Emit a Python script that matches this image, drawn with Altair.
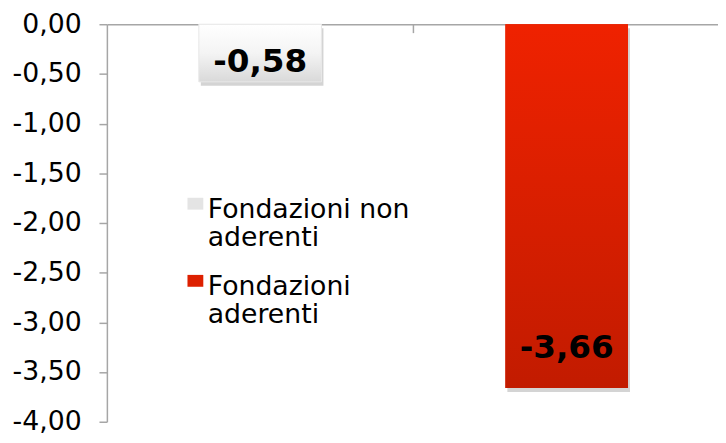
import altair as alt
import pandas as pd

categories = ["Fondazioni non aderenti", "Fondazioni aderenti"]
values = [-0.58, -3.66]
y_ticks = [0, -0.5, -1, -1.5, -2, -2.5, -3, -3.5, -4]

df = pd.DataFrame({"cat": categories, "value": values})

FONT = "DejaVu Sans"
AXIS_COL = "#a6a6a6"
BAR_W = 124

fmt = "replace(replace(format({v}, '.2f'), '.', ','), '\u2212', '-')"

x_axis = alt.Axis(orient="top", labels=False, ticks=False, title=None,
                  domainColor=AXIS_COL, domainWidth=1.5, grid=False)
x_scale = alt.Scale(domain=categories, paddingInner=0, paddingOuter=0, range=[0, 620])
x_enc = alt.X("cat:N", scale=x_scale, axis=x_axis)
y_enc = alt.Y("value:Q",
              scale=alt.Scale(domain=[-4, 0], nice=False),
              axis=alt.Axis(values=y_ticks, title=None, grid=False,
                            labelExpr=fmt.format(v="datum.value"),
                            domainColor=AXIS_COL, domainWidth=1.5,
                            tickColor=AXIS_COL, tickWidth=1.5, tickSize=8,
                            labelPadding=18, labelFont=FONT, labelFontSize=27,
                            labelColor="black"))

base = alt.Chart(df).transform_calculate(label=fmt.format(v="datum.value"))

shadow = base.mark_bar(color="#6f6f6f", opacity=0.3, xOffset=2, yOffset=4,
                       size=BAR_W).encode(x=x_enc, y=y_enc)

legend_bars = base.mark_bar(size=BAR_W).encode(
    x=x_enc, y=y_enc,
    color=alt.Color("cat:N",
                    scale=alt.Scale(domain=categories, range=["#e4e4e4", "#dd2000"]),
                    legend=alt.Legend(
                        orient="none", legendX=75, legendY=161, direction="vertical",
                        title=None, padding=0,
                        labelFont=FONT, labelFontSize=27, labelColor="black",
                        labelLimit=400, labelBaseline="top", labelOffset=0,
                        rowPadding=9,
                        symbolType="M-0.7,0.1H0.9V1.3H-0.7Z", symbolSize=400,
                        symbolStrokeWidth=0,
                        labelExpr="datum.label == 'Fondazioni non aderenti' ? ['Fondazioni non', 'aderenti'] : ['Fondazioni', 'aderenti']",
                    )))

white_grad = alt.LinearGradient(gradient="linear", x1=0, x2=0, y1=0, y2=1,
                                stops=[alt.GradientStop(color="#ffffff", offset=0),
                                       alt.GradientStop(color="#f4f4f4", offset=0.5),
                                       alt.GradientStop(color="#d9d9d9", offset=1)])
red_grad = alt.LinearGradient(gradient="linear", x1=0, x2=0, y1=0, y2=1,
                              stops=[alt.GradientStop(color="#ef2200", offset=0),
                                     alt.GradientStop(color="#c21b00", offset=1)])

white = base.transform_filter(alt.datum.cat == categories[0]).mark_bar(
    size=BAR_W, color=white_grad, stroke="#e8e8e8", strokeWidth=1).encode(x=x_enc, y=y_enc)
red = base.transform_filter(alt.datum.cat == categories[1]).mark_bar(
    size=BAR_W, color=red_grad).encode(x=x_enc, y=y_enc)

tick = base.transform_filter(alt.datum.cat == categories[1]).mark_rule(
    color=AXIS_COL, strokeWidth=1.5).encode(
    x=alt.X("cat:N", scale=x_scale, axis=x_axis, bandPosition=0),
    y=alt.value(0), y2=alt.value(9))

txt1 = base.transform_filter(alt.datum.cat == categories[0]).mark_text(
    font=FONT, fontSize=33, fontWeight="bold", color="black",
    baseline="alphabetic", dy=-10).encode(x=x_enc, y=y_enc, text="label:N")
txt2 = base.transform_filter(alt.datum.cat == categories[1]).mark_text(
    font=FONT, fontSize=33, fontWeight="bold", color="black",
    baseline="alphabetic", dy=-30).encode(x=x_enc, y=y_enc, text="label:N")

chart = alt.layer(shadow, legend_bars, white, red, tick, txt1, txt2).properties(
    width=618, height=402,
    autosize=alt.AutoSizeParams(type="none"),
    padding={"left": 100, "top": 14, "right": 0, "bottom": 11},
    background="white",
).configure_view(stroke=None)

chart.save("out.html", embed_options={"renderer": "svg", "actions": False})
